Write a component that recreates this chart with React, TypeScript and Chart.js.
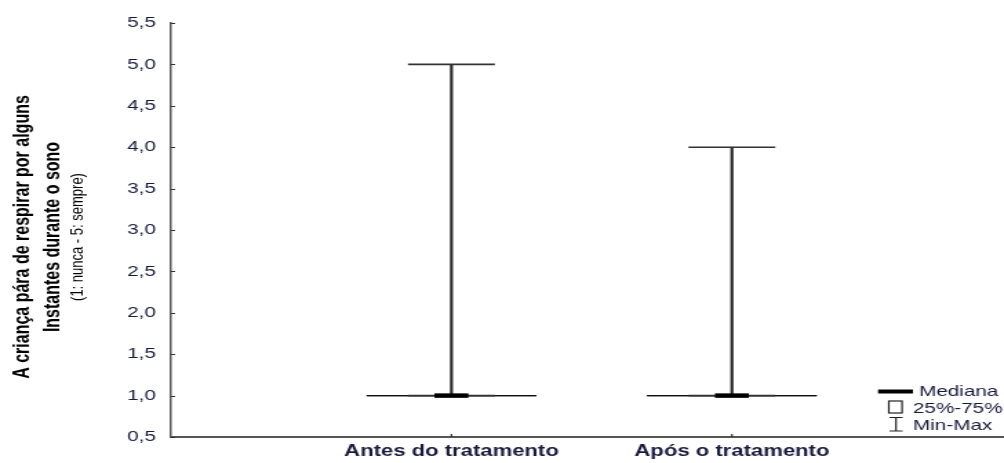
import React, { useEffect, useRef } from 'react';
import { Chart, registerables } from 'chart.js';

Chart.register(...registerables);

// ---- data ----
const categories = ['Antes do tratamento', 'Após o tratamento'];
const minValues = [1, 1];
const q1Values = [1, 1];
const medianValues = [1, 1];
const q3Values = [1, 1];
const maxValues = [5, 4];
const yMin = 0.5;
const yMax = 5.5;
const yStep = 0.5;
const yTitleLines = [
  'A criança pára de respirar por alguns',
  'Instantes durante o sono',
  '(1: nunca - 5: sempre)',
];
const legendLabels = ['Mediana', '25%-75%', 'Min-Max'];

// ---- render geometry (internal canvas, stretched horizontally by CSS) ----
const OUT_W = 1004;
const OUT_H = 463;
const IN_W = 728;
const FONT = "'Liberation Sans', Arial, Helvetica, sans-serif";
const TEXT = '#1a1a3c';
const AXIS = '#555555';

const innerTicksPlugin = {
  id: 'innerTicks',
  afterDraw(chart: any) {
    const { ctx, chartArea } = chart;
    const ys = chart.scales.y;
    const xs = chart.scales.x;
    ctx.save();
    ctx.strokeStyle = '#333';
    ctx.lineWidth = 1;
    ys.ticks.forEach((t: any) => {
      const py = Math.round(ys.getPixelForValue(t.value)) + 0.5;
      ctx.beginPath();
      ctx.moveTo(chartArea.left, py);
      ctx.lineTo(chartArea.left + 3, py);
      ctx.stroke();
    });
    ctx.lineWidth = 1.2;
    xs.ticks.forEach((t: any) => {
      const px = xs.getPixelForValue(t.value);
      ctx.beginPath();
      ctx.moveTo(px, chartArea.bottom);
      ctx.lineTo(px, chartArea.bottom - 3);
      ctx.stroke();
    });
    ctx.restore();
  },
};

const titlePlugin = {
  id: 'yTitleLines',
  afterDraw(chart: any) {
    const { ctx, chartArea } = chart;
    const yc = (chartArea.top + chartArea.bottom) / 2 + 7;
    const specs = [
      { font: `bold 16px ${FONT}`, x: 21 },
      { font: `bold 16px ${FONT}`, x: 42.5 },
      { font: `13px ${FONT}`, x: 60 },
    ];
    ctx.save();
    ctx.fillStyle = '#000';
    ctx.textAlign = 'center';
    ctx.textBaseline = 'alphabetic';
    yTitleLines.forEach((line, i) => {
      ctx.save();
      ctx.translate(specs[i].x, yc);
      ctx.rotate(-Math.PI / 2);
      ctx.font = specs[i].font;
      ctx.fillText(line, 0, 0);
      ctx.restore();
    });
    ctx.restore();
  },
};

const legendPlugin = {
  id: 'boxLegend',
  afterDraw(chart: any) {
    const { ctx } = chart;
    ctx.save();
    ctx.fillStyle = TEXT;
    ctx.font = `15px ${FONT}`;
    ctx.textAlign = 'left';
    ctx.textBaseline = 'alphabetic';
    // Mediana
    ctx.strokeStyle = '#000';
    ctx.lineWidth = 4;
    ctx.beginPath();
    ctx.moveTo(636.7, 391.5);
    ctx.lineTo(662, 391.5);
    ctx.stroke();
    ctx.fillText(legendLabels[0], 666.4, 396);
    // 25%-75%
    ctx.lineWidth = 1.2;
    ctx.strokeStyle = '#222';
    ctx.strokeRect(644.5, 401, 9.6, 12);
    ctx.fillText(legendLabels[1], 662, 413);
    // Min-Max
    ctx.beginPath();
    ctx.moveTo(645, 417.5);
    ctx.lineTo(654.5, 417.5);
    ctx.moveTo(649.7, 417.5);
    ctx.lineTo(649.7, 431);
    ctx.moveTo(645, 431);
    ctx.lineTo(654.5, 431);
    ctx.stroke();
    ctx.fillText(legendLabels[2], 662, 429.5);
    ctx.restore();
  },
};

export default function App() {
  const canvasRef = useRef<HTMLCanvasElement | null>(null);

  useEffect(() => {
    const canvas = canvasRef.current;
    if (!canvas) return;
    const pos = categories.map((_, i) => i + 1);

    const chart = new Chart(canvas, {
      type: 'bar',
      data: {
        datasets: [
          {
            type: 'bar',
            label: 'Min-Max',
            data: pos.map((x, i) => ({ x, y: [minValues[i], maxValues[i]] })) as any,
            backgroundColor: '#262626',
            borderWidth: 0,
            barThickness: 1.5,
            order: 3,
          } as any,
          {
            type: 'line',
            label: 'caps',
            data: [
              ...pos.map((x, i) => ({ x, y: maxValues[i] })),
              ...pos.map((x, i) => ({ x, y: minValues[i] })),
            ],
            showLine: false,
            pointStyle: 'line',
            pointRadius: 31.5,
            pointHoverRadius: 31.5,
            pointBorderColor: '#333333',
            pointBorderWidth: 1.6,
            borderColor: '#333333',
            order: 2,
          } as any,
          {
            type: 'line',
            label: '25%-75%',
            data: [
              ...pos.map((x, i) => ({ x, y: q1Values[i] })),
              ...pos.map((x, i) => ({ x, y: q3Values[i] })),
            ],
            showLine: false,
            pointStyle: 'line',
            pointRadius: 61.5,
            pointHoverRadius: 61.5,
            pointBorderColor: '#111111',
            pointBorderWidth: 1.4,
            borderColor: '#111111',
            order: 4,
          } as any,
          {
            type: 'line',
            label: 'Mediana',
            data: pos.map((x, i) => ({ x, y: medianValues[i] })),
            showLine: false,
            pointStyle: 'line',
            pointRadius: 12.3,
            pointHoverRadius: 12.3,
            pointBorderColor: '#000000',
            pointBorderWidth: 4.5,
            borderColor: '#000000',
            order: 1,
          } as any,
        ],
      },
      options: {
        responsive: false,
        devicePixelRatio: 1,
        animation: false,
        layout: { autoPadding: false, padding: { top: 23, right: 0, bottom: 0, left: 0 } },
        plugins: {
          legend: { display: false },
          tooltip: { enabled: false },
          title: { display: false },
        },
        scales: {
          x: {
            type: 'linear',
            bounds: 'data',
            offset: false,
            min: 0,
            max: 2.97,
            afterBuildTicks: (s: any) => {
              s.ticks = pos.map((v) => ({ value: v }));
            },
            afterFit: (s: any) => {
              s.height = 26;
            },
            ticks: {
              autoSkip: false,
              maxRotation: 0,
              minRotation: 0,
              padding: 5,
              color: TEXT,
              font: { family: FONT, size: 16, weight: 'bold' },
              callback: (v: any) => categories[Number(v) - 1] ?? '',
            },
            grid: { display: true, offset: false, drawOnChartArea: false, drawTicks: false },
            border: { display: true, color: AXIS, width: 2 },
          } as any,
          y: {
            type: 'linear',
            min: yMin,
            max: yMax,
            afterFit: (s: any) => {
              s.width = 124;
            },
            ticks: {
              stepSize: yStep,
              padding: 11,
              color: TEXT,
              font: { family: FONT, size: 15 },
              callback: (v: any) => Number(v).toFixed(1).replace('.', ','),
            },
            grid: { display: true, drawOnChartArea: false, drawTicks: false },
            border: { display: true, color: AXIS, width: 1.5 },
          } as any,
        },
      },
      plugins: [innerTicksPlugin, titlePlugin, legendPlugin],
    });

    return () => chart.destroy();
  }, []);

  return (
    <canvas
      ref={canvasRef}
      width={IN_W}
      height={OUT_H}
      style={{
        position: 'fixed',
        left: 0,
        top: 0,
        width: `${OUT_W}px`,
        height: `${OUT_H}px`,
        background: '#ffffff',
      }}
    />
  );
}
